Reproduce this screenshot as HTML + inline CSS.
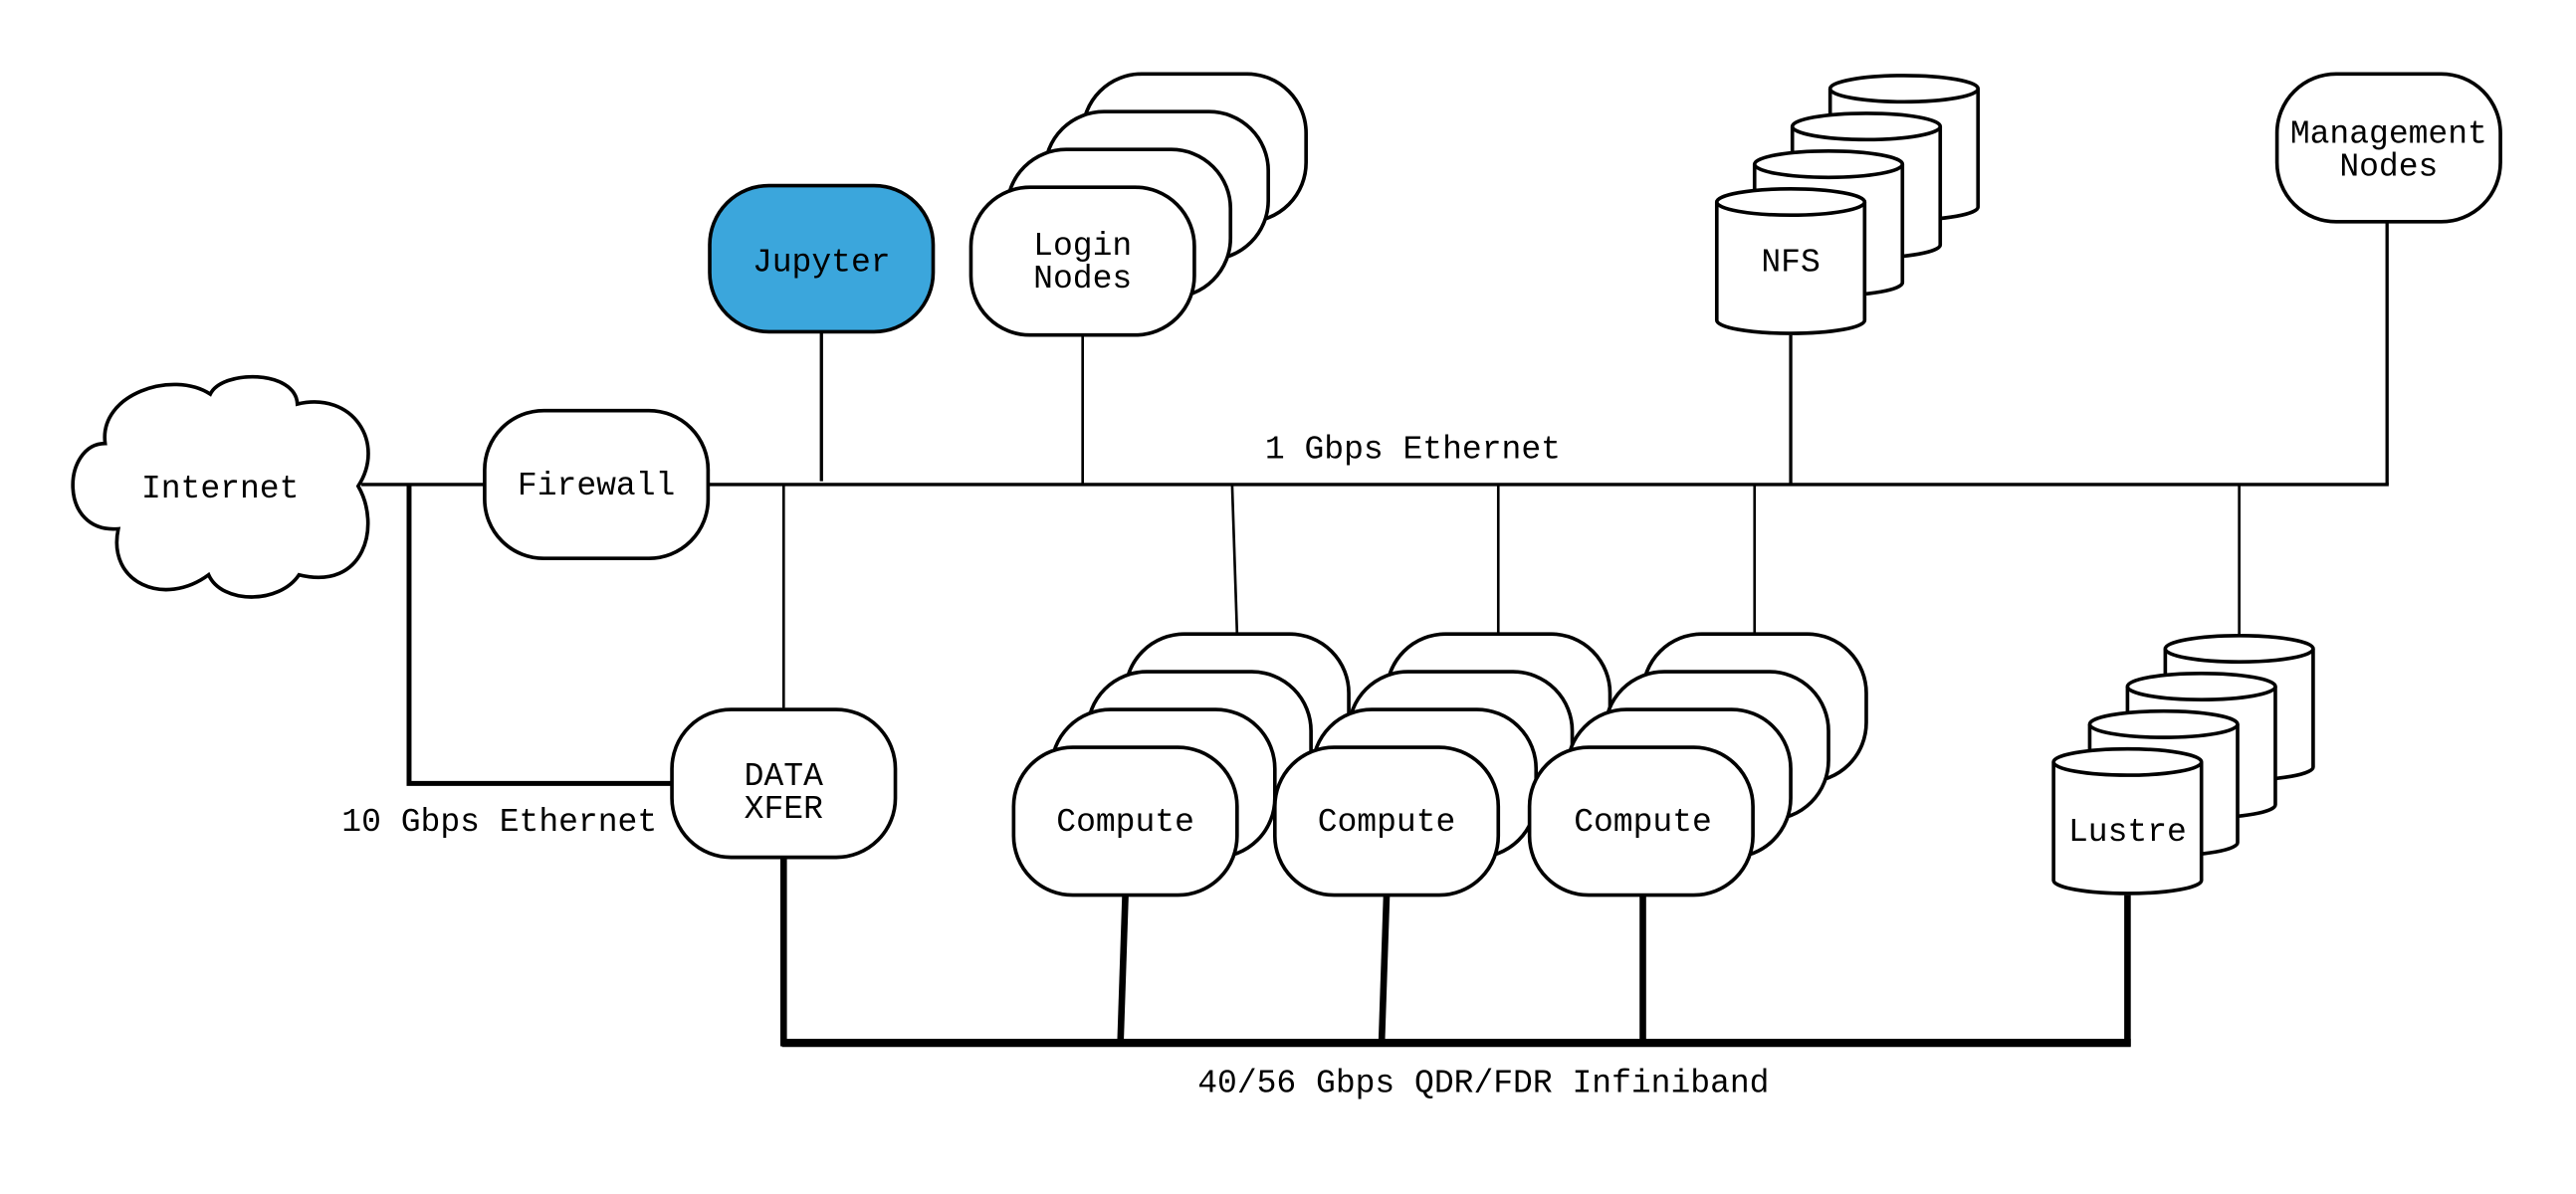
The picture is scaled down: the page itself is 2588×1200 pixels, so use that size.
<!DOCTYPE html>
<html><head><meta charset="utf-8"><style>
html,body{margin:0;padding:0;background:#fff;}
svg{display:block;}
text{font-family:"Liberation Mono",monospace;font-size:20px;fill:#000;}
</style></head><body>
<svg width="2588" height="1200" viewBox="0 0 1568 727" preserveAspectRatio="none" xmlns="http://www.w3.org/2000/svg">
<defs>
<g id="node"><rect x="0" y="0" width="136" height="90" rx="36" ry="36" fill="#fff" stroke="#000" stroke-width="2.2"/></g>
<g id="cyl"><path d="M0 9 L0 81 A45 8 0 0 0 90 81 L90 9" fill="#fff" stroke="#000" stroke-width="2.2"/><ellipse cx="45" cy="9" rx="45" ry="8" fill="#fff" stroke="#000" stroke-width="2.2"/></g>
</defs>
<g stroke="#000" fill="none">
<line x1="220" y1="295" x2="1454" y2="295" stroke-width="2"/>
<line x1="500" y1="200" x2="500" y2="293" stroke-width="2"/>
<line x1="659" y1="204" x2="659" y2="295" stroke-width="1.6"/>
<line x1="1090" y1="204" x2="1090" y2="295" stroke-width="2"/>
<line x1="1453" y1="136" x2="1453" y2="295" stroke-width="2"/>
<line x1="477" y1="295" x2="477" y2="431" stroke-width="1.6"/>
<line x1="750" y1="295" x2="753" y2="386" stroke-width="1.6"/>
<line x1="912" y1="295" x2="912" y2="386" stroke-width="1.6"/>
<line x1="1068" y1="295" x2="1068" y2="386" stroke-width="1.6"/>
<line x1="1363" y1="295" x2="1363" y2="386" stroke-width="1.6"/>
<polyline points="249,295 249,477 409,477" stroke-width="3"/>
<line x1="476" y1="635" x2="1297" y2="635" stroke-width="5"/>
<line x1="477" y1="522" x2="477" y2="637" stroke-width="4"/>
<line x1="685" y1="545" x2="682" y2="635" stroke-width="4"/>
<line x1="844" y1="545" x2="841" y2="635" stroke-width="4"/>
<line x1="1000" y1="545" x2="1000" y2="635" stroke-width="4"/>
<line x1="1295" y1="545" x2="1295" y2="637" stroke-width="4"/>
</g>
<path d="M64 270 C60 240 105 225 128 240 C135 225 180 225 181 246 C215 238 235 270 218 296 C232 320 222 360 182 350 C170 368 135 368 127 350 C100 370 65 355 72 322 C35 325 38 270 64 270 Z" fill="#fff" stroke="#000" stroke-width="2.2"/>
<text x="134" y="303" text-anchor="middle">Internet</text>
<use href="#node" x="295" y="250"/><text x="363" y="301" text-anchor="middle">Firewall</text>
<rect x="432" y="113" width="136" height="89" rx="36" fill="#3ba6dc" stroke="#000" stroke-width="2.2"/>
<text x="500" y="165" text-anchor="middle">Jupyter</text>
<use href="#node" x="659" y="45"/><use href="#node" x="636" y="68"/><use href="#node" x="613" y="91"/><use href="#node" x="591" y="114"/>
<text x="659" y="155" text-anchor="middle">Login</text><text x="659" y="175" text-anchor="middle">Nodes</text>
<use href="#node" x="1386" y="45"/>
<text x="1454" y="87" text-anchor="middle">Management</text><text x="1454" y="107" text-anchor="middle">Nodes</text>
<use href="#cyl" x="1114" y="45"/><use href="#cyl" x="1091" y="68"/><use href="#cyl" x="1068" y="91"/><use href="#cyl" x="1045" y="114"/>
<text x="1090" y="165" text-anchor="middle">NFS</text>
<use href="#node" x="409" y="432"/>
<text x="477" y="478" text-anchor="middle">DATA</text><text x="477" y="498" text-anchor="middle">XFER</text>
<use href="#node" x="685" y="386"/><use href="#node" x="662" y="409"/><use href="#node" x="640" y="432"/><use href="#node" x="617" y="455"/>
<text x="685" y="506" text-anchor="middle">Compute</text>
<use href="#node" x="844" y="386"/><use href="#node" x="821" y="409"/><use href="#node" x="799" y="432"/><use href="#node" x="776" y="455"/>
<text x="844" y="506" text-anchor="middle">Compute</text>
<use href="#node" x="1000" y="386"/><use href="#node" x="977" y="409"/><use href="#node" x="954" y="432"/><use href="#node" x="931" y="455"/>
<text x="1000" y="506" text-anchor="middle">Compute</text>
<use href="#cyl" x="1318" y="386"/><use href="#cyl" x="1295" y="409"/><use href="#cyl" x="1272" y="432"/><use href="#cyl" x="1250" y="455"/>
<text x="1295" y="512" text-anchor="middle">Lustre</text>
<text x="770" y="279">1 Gbps Ethernet</text>
<text x="208" y="506">10 Gbps Ethernet</text>
<text x="729" y="665">40/56 Gbps QDR/FDR Infiniband</text>
</svg>
</body></html>
